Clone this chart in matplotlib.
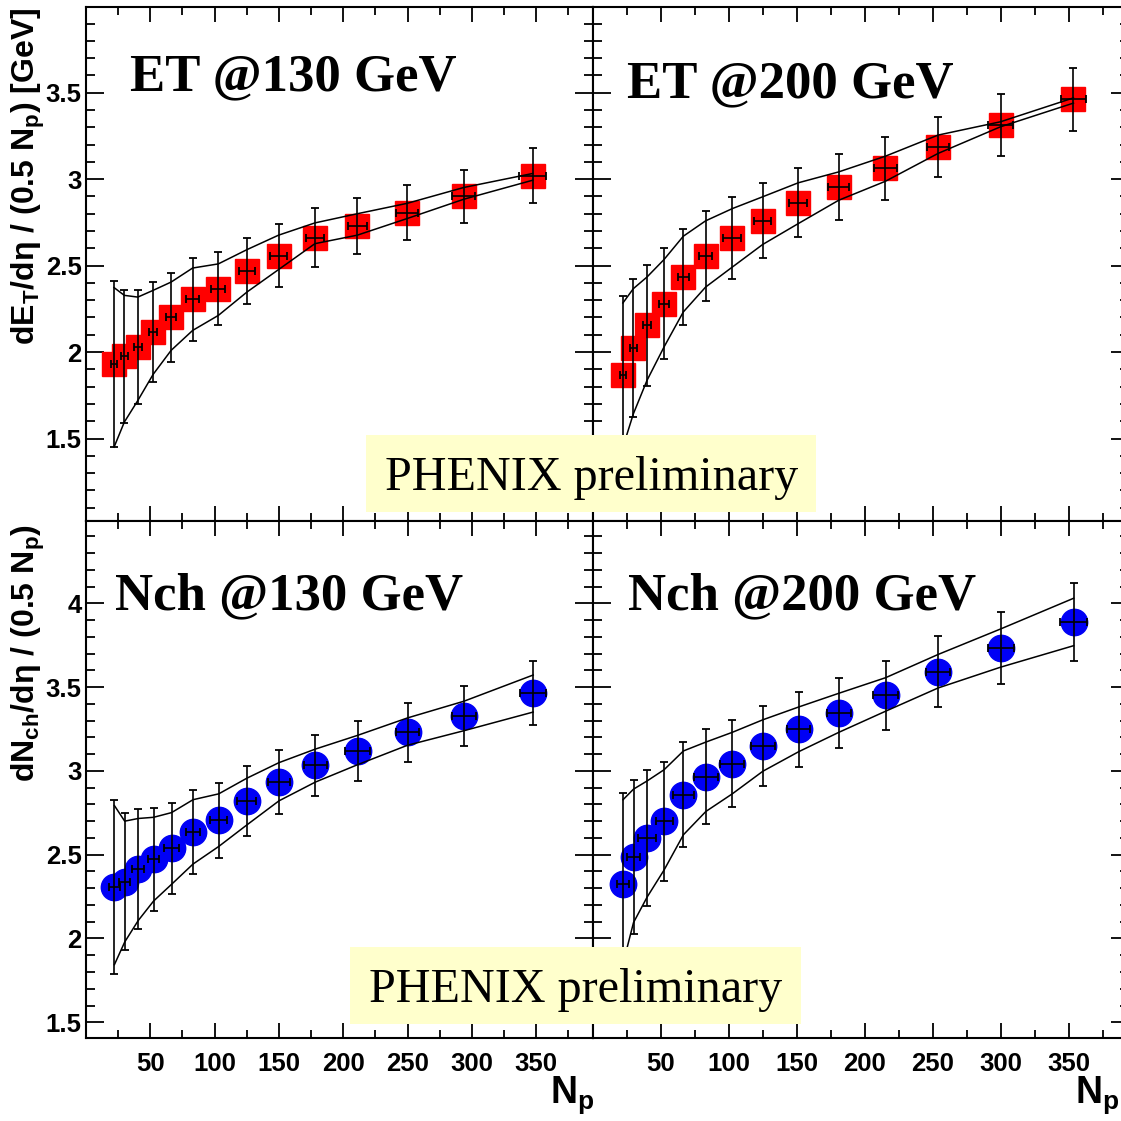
import numpy as np
import matplotlib
matplotlib.use("Agg")
import matplotlib.pyplot as plt
from matplotlib.ticker import MultipleLocator, FormatStrFormatter
from matplotlib.patches import Rectangle

plt.rcParams['font.family'] = ['Liberation Sans', 'DejaVu Sans']
plt.rcParams['mathtext.default'] = 'regular'

# ---- data ----
# ET @130 GeV
et130_np = [21.8, 29.8, 40.3, 52.2, 66.2, 82.9, 102.9, 125.3, 149.7, 178.0, 210.9, 249.6, 293.8, 347.4]
et130_y = [1.93, 1.975, 2.027, 2.115, 2.20, 2.305, 2.367, 2.469, 2.558, 2.662, 2.73, 2.807, 2.90, 3.02]
et130_yerr = [0.48, 0.384, 0.33, 0.29, 0.256, 0.24, 0.21, 0.19, 0.18, 0.17, 0.163, 0.158, 0.155, 0.158]
et130_xerr = [2, 2.5, 3, 3, 4, 4.8, 5.5, 6.4, 6.7, 7.1, 7.4, 8.2, 8.9, 10.4]
et130_hi = [2.373, 2.328, 2.318, 2.357, 2.405, 2.486, 2.51, 2.593, 2.676, 2.747, 2.80, 2.86, 2.952, 3.033]
et130_lo = [1.45, 1.595, 1.72, 1.871, 2.01, 2.125, 2.212, 2.348, 2.477, 2.627, 2.676, 2.772, 2.884, 2.994]

# ET @200 GeV
et200_np = [22.2, 29.9, 39.9, 52.4, 66.6, 83.0, 102.7, 124.9, 151.1, 180.8, 215.2, 253.9, 299.8, 353.4]
et200_y = [1.869, 2.023, 2.154, 2.28, 2.434, 2.556, 2.66, 2.759, 2.863, 2.956, 3.062, 3.185, 3.313, 3.461]
et200_yerr = [0.455, 0.40, 0.35, 0.32, 0.28, 0.26, 0.235, 0.217, 0.20, 0.19, 0.183, 0.172, 0.18, 0.18]
et200_xerr = [2, 2.5, 3, 3.5, 4, 5, 6.6, 6.5, 6.5, 7.5, 8.4, 8, 9.3, 9.3]
et200_hi = [2.284, 2.367, 2.434, 2.535, 2.67, 2.759, 2.83, 2.898, 2.979, 3.042, 3.133, 3.255, 3.332, 3.47]
et200_lo = [1.45, 1.643, 1.836, 2.029, 2.232, 2.376, 2.492, 2.622, 2.743, 2.878, 2.988, 3.149, 3.303, 3.44]

# Nch @130 GeV
nch130_np = [22.1, 30.1, 40.6, 52.5, 66.5, 83.2, 103.2, 125, 150, 178.3, 211.2, 250, 294, 347.7]
nch130_y = [2.309, 2.34, 2.416, 2.472, 2.537, 2.635, 2.705, 2.821, 2.933, 3.033, 3.119, 3.23, 3.328, 3.463]
nch130_yerr = [0.52, 0.41, 0.357, 0.307, 0.272, 0.251, 0.222, 0.208, 0.193, 0.181, 0.177, 0.176, 0.177, 0.19]
nch130_xerr = [4, 4.5, 4.5, 4.5, 5.5, 5.5, 6.5, 7.4, 8.5, 8.9, 9.7, 9.2, 9.2, 10.1]
nch130_hi = [2.793, 2.70, 2.716, 2.723, 2.751, 2.828, 2.863, 2.956, 3.049, 3.13, 3.212, 3.316, 3.416, 3.572]
nch130_lo = [1.844, 1.979, 2.107, 2.223, 2.323, 2.444, 2.549, 2.677, 2.821, 2.933, 3.037, 3.153, 3.24, 3.351]

# Nch @200 GeV
nch200_np = [22.3, 30.0, 40.0, 52.5, 66.7, 83.2, 102.6, 125.1, 151.3, 180.9, 215.3, 254, 299.9, 353.5]
nch200_y = [2.328, 2.484, 2.60, 2.70, 2.858, 2.965, 3.044, 3.149, 3.247, 3.344, 3.451, 3.593, 3.735, 3.891]
nch200_yerr = [0.54, 0.46, 0.405, 0.356, 0.315, 0.283, 0.262, 0.237, 0.222, 0.209, 0.206, 0.209, 0.216, 0.233]
nch200_xerr = [4.4, 4.7, 6.8, 6.2, 7.5, 9, 8.7, 8.7, 8.7, 8.7, 9, 9, 9.5, 10]
nch200_hi = [2.828, 2.891, 2.94, 3.007, 3.119, 3.172, 3.23, 3.305, 3.381, 3.463, 3.556, 3.695, 3.847, 4.03]
nch200_lo = [1.85, 2.095, 2.247, 2.409, 2.619, 2.758, 2.863, 2.998, 3.114, 3.23, 3.356, 3.495, 3.619, 3.747]

titles = ['ET @130 GeV', 'ET @200 GeV', 'Nch @130 GeV', 'Nch @200 GeV']
x_ticks = [50, 100, 150, 200, 250, 300, 350]

W = H = 1121.0
fig = plt.figure(figsize=(11.21, 11.21), dpi=100)

def px_rect(x0, y0, x1, y1):
    # pixel box (top-left origin) -> figure fraction rect
    return [x0 / W, 1 - y1 / H, (x1 - x0) / W, (y1 - y0) / H]

ax_tl = fig.add_axes(px_rect(86, 7.3, 592.7, 521))
ax_tr = fig.add_axes(px_rect(592.7, 7.3, 1128.7, 521))
ax_bl = fig.add_axes(px_rect(86, 521, 592.7, 1037.7))
ax_br = fig.add_axes(px_rect(592.7, 521, 1128.7, 1037.7))

panels = [
    (ax_tl, et130_np, et130_y, et130_yerr, et130_xerr, et130_hi, et130_lo, 's', 'red', 17),
    (ax_tr, et200_np, et200_y, et200_yerr, et200_xerr, et200_hi, et200_lo, 's', 'red', 17),
    (ax_bl, nch130_np, nch130_y, nch130_yerr, nch130_xerr, nch130_hi, nch130_lo, 'o', '#0000f5', 19),
    (ax_br, nch200_np, nch200_y, nch200_yerr, nch200_xerr, nch200_hi, nch200_lo, 'o', '#0000f5', 19),
]

title_pos = [(0.087, 0.838), (0.064, 0.825), (0.057, 0.829), (0.066, 0.829)]

for i, (ax, xs, ys, ye, xe, hi, lo, mk, col, ms) in enumerate(panels):
    ax.plot(xs, ys, ls='none', marker=mk, ms=ms, color=col, mec=col, zorder=2)
    ax.errorbar(xs, ys, yerr=ye, xerr=xe, fmt='none', ecolor='black',
                elinewidth=1.2, capsize=2.8, capthick=1.3, zorder=3)
    ax.plot(xs, hi, color='black', lw=1.1, zorder=3)
    ax.plot(xs, lo, color='black', lw=1.1, zorder=3)

    ax.set_xlim(0, 394)
    if i < 2:
        ax.set_ylim(1.023, 3.994)
    else:
        ax.set_ylim(1.408, 4.491)
    ax.set_xticks(x_ticks)
    ax.xaxis.set_minor_locator(MultipleLocator(25))
    ax.yaxis.set_major_locator(MultipleLocator(0.5))
    ax.yaxis.set_minor_locator(MultipleLocator(0.1))
    ax.yaxis.set_major_formatter(FormatStrFormatter('%g'))
    ax.tick_params(which='both', direction='in', top=True, right=True, width=1.3)
    ax.tick_params(axis='x', which='major', length=10.8, pad=10)
    ax.tick_params(axis='x', which='minor', length=5.8)
    ax.tick_params(axis='y', which='major', length=13, pad=3)
    ax.tick_params(axis='y', which='minor', length=6.5)
    for lab in ax.get_xticklabels() + ax.get_yticklabels():
        lab.set_fontweight('bold')
        lab.set_fontsize(18.5)
    if i < 2:
        ax.tick_params(axis='x', labelbottom=False)
    if i % 2 == 1:
        ax.tick_params(axis='y', labelleft=False)
    for sp in ax.spines.values():
        sp.set_linewidth(1.5)
    ax.text(title_pos[i][0], title_pos[i][1], titles[i], transform=ax.transAxes,
            family='Liberation Serif', fontweight='bold', fontsize=38, va='baseline')

# axis titles
fig.text(28 / W, 1 - 8 / H, 'dE$_\\mathregular{T}$/dη / (0.5 N$_\\mathregular{p}$) [GeV]',
         rotation=90, ha='center', va='top', fontsize=23, fontweight='bold')
fig.text(28 / W, 1 - 524 / H, 'dN$_\\mathregular{ch}$/dη / (0.5 N$_\\mathregular{p}$)',
         rotation=90, ha='center', va='top', fontsize=23, fontweight='bold')
fig.text(594 / W, 1 - 1103 / H, 'N$_\\mathregular{p}$', ha='right', va='baseline',
         fontsize=27, fontweight='bold')
fig.text(1119 / W, 1 - 1103 / H, 'N$_\\mathregular{p}$', ha='right', va='baseline',
         fontsize=27, fontweight='bold')

# "PHENIX preliminary" boxes
for (bx0, by0, bx1, by1, tx, ty) in [(365.5, 435, 816, 511.7, 385, 490),
                                     (350, 946.5, 800.6, 1023.6, 369, 1002)]:
    fig.add_artist(Rectangle((bx0 / W, 1 - by1 / H), (bx1 - bx0) / W, (by1 - by0) / H,
                             transform=fig.transFigure, facecolor='#ffffcc',
                             edgecolor='none', zorder=5))
    fig.text(tx / W, 1 - ty / H, 'PHENIX preliminary', family='Liberation Serif',
             fontsize=34.7, va='baseline', zorder=6)

fig.savefig('out.png', dpi=100)
